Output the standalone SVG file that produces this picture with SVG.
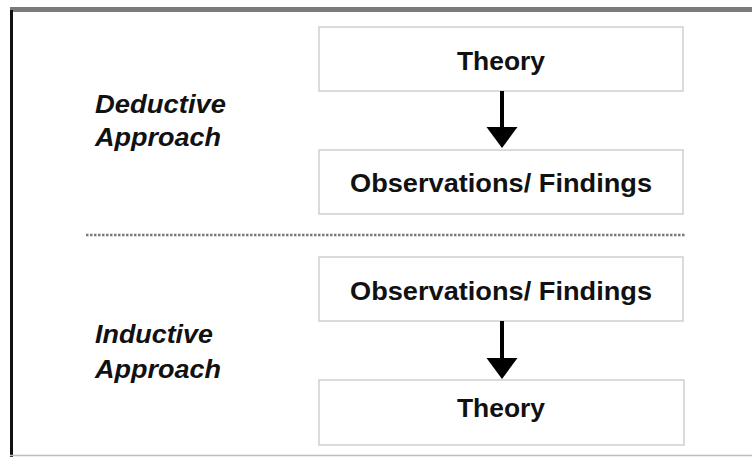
<svg xmlns="http://www.w3.org/2000/svg" width="752" height="457" viewBox="0 0 752 457">
<style>
.box{fill:#fff;stroke:#cfcfcf;stroke-width:1.5}
.t{font-family:"Liberation Sans",Arial,sans-serif;font-weight:bold;font-size:26px;fill:#111;text-anchor:middle}
.lab{font-family:"Liberation Sans",Arial,sans-serif;font-weight:bold;font-style:italic;font-size:26px;fill:#111}
.shaft{stroke:#000;stroke-width:4;fill:none}
.head{fill:#000}
</style>
<rect x="0" y="0" width="752" height="457" fill="#fff"/>
<g id="frame">
<rect x="10" y="7" width="742" height="5" fill="#7a7a7a"/>
<rect x="10" y="10" width="3" height="447" fill="#111"/>
<line x1="10" y1="455.5" x2="752" y2="455.5" stroke="#bdbdbd" stroke-width="1.5"/>
</g>
<g id="labels">
<text class="lab" x="95" y="113" textLength="131" lengthAdjust="spacingAndGlyphs">Deductive</text>
<text class="lab" x="95" y="146" textLength="126" lengthAdjust="spacingAndGlyphs">Approach</text>
<text class="lab" x="95" y="343" textLength="118" lengthAdjust="spacingAndGlyphs">Inductive</text>
<text class="lab" x="95" y="378" textLength="126" lengthAdjust="spacingAndGlyphs">Approach</text>
</g>
<g id="divider">
<line x1="86" y1="235" x2="686" y2="235" stroke="#7a7a7a" stroke-width="2.5" stroke-dasharray="2.5 1.5"/>
</g>
<g id="n1">
<rect class="box" x="319" y="27" width="364" height="64"/>
<text class="t" x="501" y="70" textLength="88" lengthAdjust="spacingAndGlyphs">Theory</text>
</g>
<g id="n2">
<rect class="box" x="319" y="150" width="364" height="64"/>
<text class="t" x="501" y="192" textLength="302" lengthAdjust="spacingAndGlyphs">Observations/ Findings</text>
</g>
<g id="n3">
<rect class="box" x="319" y="257" width="364" height="64"/>
<text class="t" x="501" y="300" textLength="302" lengthAdjust="spacingAndGlyphs">Observations/ Findings</text>
</g>
<g id="n4">
<rect class="box" x="319" y="380" width="365" height="65"/>
<text class="t" x="501" y="417" textLength="88" lengthAdjust="spacingAndGlyphs">Theory</text>
</g>
<g id="connectors">
<line class="shaft" x1="502" y1="91" x2="502" y2="130"/>
<polygon class="head" points="486.5,127 517.5,127 502,148"/>
<line class="shaft" x1="502" y1="321" x2="502" y2="361"/>
<polygon class="head" points="486.5,358 517.5,358 502,379"/>
</g>
</svg>
